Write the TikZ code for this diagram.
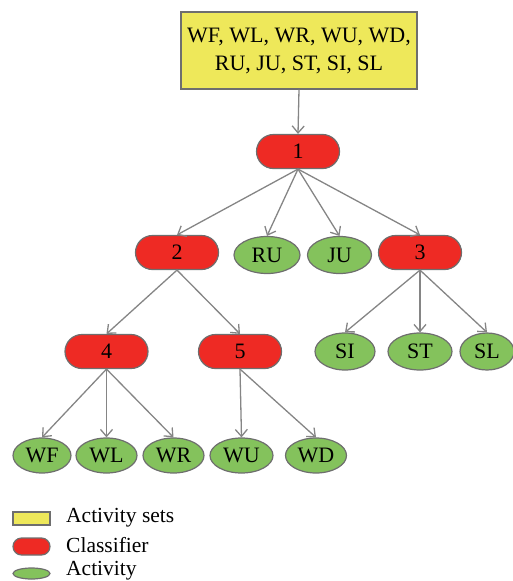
\documentclass[tikz,border=0pt]{standalone}
\usepackage{fontspec}
\setmainfont{Liberation Serif}
\usetikzlibrary{arrows.meta,shapes.misc,shapes.geometric}
\definecolor{setfill}{HTML}{EEE85A}
\definecolor{clsfill}{HTML}{EE2A24}
\definecolor{actfill}{HTML}{84C25C}
\definecolor{edgegray}{HTML}{6E6E6E}
\definecolor{arrowgray}{HTML}{858585}
\begin{document}
\begin{tikzpicture}[x=1pt,y=-1pt,
  font=\fontsize{22}{28}\selectfont,
  setbox/.style={draw=edgegray,line width=1.2pt,fill=setfill,minimum width=236pt,minimum height=77pt,inner sep=0pt,align=center},
  classifier/.style={draw=edgegray,line width=1.2pt,fill=clsfill,rounded rectangle,minimum width=83pt,minimum height=34pt,inner sep=0pt},
  activity/.style={draw=edgegray,line width=1.2pt,fill=actfill,ellipse,minimum height=37pt,inner sep=0pt},
  link/.style={draw=arrowgray,line width=1.3pt,-{Straight Barb[length=7pt,width=12pt]}},
  legendtext/.style={anchor=west,inner sep=0pt,font=\fontsize{21.5}{26}\selectfont}]
\useasboundingbox (0,0) rectangle (513,581);

% activity sets at the root
\node[setbox] (top) at (299,50.5) {WF, WL, WR, WU, WD,\\RU, JU, ST, SI, SL};

% classifiers
\node[classifier] (c1) at (298,151.5) {1};
\node[classifier] (c2) at (177,252.5) {2};
\node[classifier] (c3) at (420,252.5) {3};
\node[classifier] (c4) at (106.5,351.5) {4};
\node[classifier] (c5) at (240,351.5) {5};

% activities
\node[activity,minimum width=66pt] (ru) at (267,255) {RU};
\node[activity,minimum width=64pt] (ju) at (339.5,255) {JU};
\node[activity,minimum width=60pt] (si) at (345,351.5) {SI};
\node[activity,minimum width=64pt] (st) at (420,351.5) {ST};
\node[activity,minimum width=54pt] (sl) at (487,351.5) {SL};
\node[activity,minimum width=58pt,minimum height=35pt] (wf) at (42,455.5) {WF};
\node[activity,minimum width=61pt,minimum height=35pt] (wl) at (106.5,455.5) {WL};
\node[activity,minimum width=61pt,minimum height=35pt] (wr) at (173.5,455.5) {WR};
\node[activity,minimum width=63pt,minimum height=35pt] (wu) at (241.5,455.5) {WU};
\node[activity,minimum width=61pt,minimum height=35pt] (wd) at (316,455.5) {WD};

% connectors
\draw[link] (top.south) -- (c1.north);
\foreach \t in {c2,ru,ju,c3} \draw[link] (c1.south) -- (\t.north);
\foreach \t in {c4,c5} \draw[link] (c2.south) -- (\t.north);
\foreach \t in {si,st,sl} \draw[link] (c3.south) -- (\t.north);
\foreach \t in {wf,wl,wr} \draw[link] (c4.south) -- (\t.north);
\foreach \t in {wu,wd} \draw[link] (c5.south) -- (\t.north);

% legend
\node[draw=edgegray,line width=1.2pt,fill=setfill,minimum width=37pt,minimum height=13pt,inner sep=0pt] (lg1) at (31.5,518.5) {};
\node[draw=edgegray,line width=1.2pt,fill=clsfill,rounded rectangle,minimum width=37pt,minimum height=17pt,inner sep=0pt] (lg2) at (31.5,546.5) {};
\node[draw=edgegray,line width=1.2pt,fill=actfill,ellipse,minimum width=37pt,minimum height=11pt,inner sep=0pt] (lg3) at (31.5,573.5) {};
\node[legendtext] (lt1) at (66,518) {Activity sets};
\node[legendtext] (lt2) at (66,545) {Classifier};
\node[legendtext] (lt3) at (66,571) {Activity};
\end{tikzpicture}
\end{document}
